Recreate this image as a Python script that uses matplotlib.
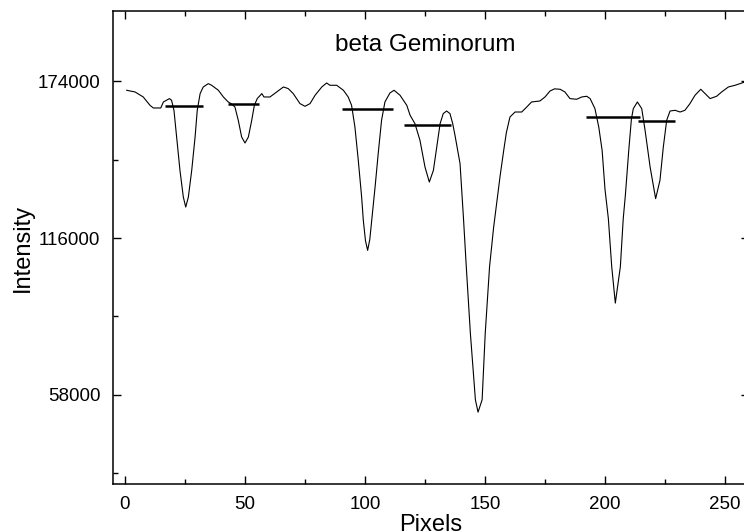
import matplotlib
matplotlib.use("Agg")
import matplotlib.pyplot as plt
from matplotlib.ticker import MultipleLocator, FixedLocator

plt.rcParams['font.family'] = ['Liberation Sans', 'DejaVu Sans']

# spectrum trace (pixel, intensity)
pixels = [0.7, 4.2, 7.6, 10.4, 11.8, 14.9, 16.0, 18.5, 19.4, 20.4, 21.5, 22.9,
          24.3, 25.3, 26.4, 27.8, 29.2, 30.1, 31.3, 32.6, 34.7, 36.1, 38.9,
          41.0, 43.0, 44.2, 45.8, 47.2, 48.6, 50.0, 51.4, 52.8, 53.9, 55.1,
          57.0, 57.9, 60.4, 63.2, 66.0, 68.0, 70.1, 72.9, 75.0, 77.1, 79.2,
          82.0, 84.0, 85.4, 88.2, 91.0, 93.0, 94.4, 95.8, 97.2, 98.6, 99.3,
          100.2, 101.1, 102.0, 102.8, 104.2, 105.5, 106.9, 108.3, 110.4, 112.1,
          114.6, 117.4, 118.8, 120.8, 122.9, 125.0, 126.8, 128.5, 129.9, 131.3,
          132.6, 134.0, 135.4, 136.5, 137.5, 139.6, 141.0, 142.2, 143.9, 146.0,
          147.1, 148.8, 150.1, 151.9, 153.6, 155.0, 156.3, 157.8, 158.9, 160.4,
          162.5, 165.3, 167.4, 169.4, 172.9, 175.0, 177.1, 179.0, 181.3, 183.3,
          185.4, 188.2, 190.3, 192.4, 193.8, 195.8, 197.4, 198.8, 200.0, 201.4,
          202.8, 204.3, 206.4, 207.6, 208.5, 209.9, 211.0, 211.8, 213.5, 215.3,
          216.7, 218.8, 221.1, 222.9, 224.3, 225.7, 227.1, 229.2, 231.3, 233.3,
          235.4, 237.5, 239.9, 241.7, 243.8, 246.5, 248.6, 251.4, 254.2, 256.3,
          258.3]
intensity = [170670, 170040, 168190, 165120, 164120, 164120, 166340, 167590,
             166970, 163260, 153380, 141050, 131170, 127470, 131170, 141050,
             153380, 163260, 169440, 171890, 173130, 172520, 170670, 168190,
             166340, 165740, 164490, 159560, 153380, 151160, 153380, 159560,
             165120, 167590, 169440, 168190, 168190, 170040, 171890, 171300,
             169440, 165740, 164750, 165740, 168820, 171890, 173370, 172520,
             172520, 170670, 168190, 165120, 157080, 144750, 131170, 122540,
             115000, 111440, 115500, 122540, 134870, 147230, 159560, 166340,
             169680, 170670, 168820, 165120, 161410, 158340, 152160, 142270,
             136720, 141050, 149680, 158340, 162040, 163000, 162040, 158500,
             154000, 143530, 123800, 105400, 80830, 56160, 51580, 56160,
             80830, 105400, 120000, 130000, 139000, 148450, 155000, 160780,
             162630, 162630, 164490, 166340, 166710, 168190, 170410, 171200,
             171040, 170040, 167590, 167340, 168190, 168450, 167590, 163890,
             157080, 148450, 134000, 123170, 105400, 91930, 105400, 123170,
             132000, 148450, 160000, 163890, 166340, 163890, 155860, 142270,
             130570, 137350, 149680, 159560, 163000, 163260, 162630, 163260,
             165740, 168820, 171040, 169440, 167590, 168450, 170040, 171890,
             172520, 173130, 173740]

# continuum level markers over each line
level_start = [16.7, 42.9, 90.4, 116.4, 192.2, 213.6]
level_end = [32.5, 55.8, 111.5, 135.8, 214.7, 229.3]
level_value = [164750, 165600, 163900, 158000, 160700, 159300]

title_text = "beta Geminorum"

fig = plt.figure(figsize=(7.44, 5.32), dpi=100)
ax = fig.add_axes([113 / 744, 48 / 532, 636 / 744, 473 / 532])

ax.plot(pixels, intensity, color='black', linewidth=0.8)
ax.hlines(level_value, level_start, level_end, color='black', linewidth=1.8)

ax.text(125, 185300, title_text, ha='center', va='baseline', fontsize=17.5)

ax.set_xlim(-5, 260)
ax.set_ylim(25000, 200000)
ax.xaxis.set_major_locator(MultipleLocator(50))
ax.xaxis.set_minor_locator(MultipleLocator(25))
ax.yaxis.set_major_locator(FixedLocator([58000, 116000, 174000]))
ax.yaxis.set_minor_locator(FixedLocator([29000, 87000, 145000]))

ax.tick_params(which='both', direction='in', top=True, right=True, width=1)
ax.tick_params(which='major', length=6, labelsize=13.5)
ax.tick_params(which='minor', length=3.5)
ax.tick_params(axis='y', pad=9)
ax.tick_params(axis='x', pad=8.5)
for s in ax.spines.values():
    s.set_linewidth(1.1)

ax.set_xlabel("Pixels", fontsize=17, labelpad=1)
ax.set_ylabel("Intensity", fontsize=17, labelpad=3)

fig.savefig("out.png", dpi=100)
plt.close()
